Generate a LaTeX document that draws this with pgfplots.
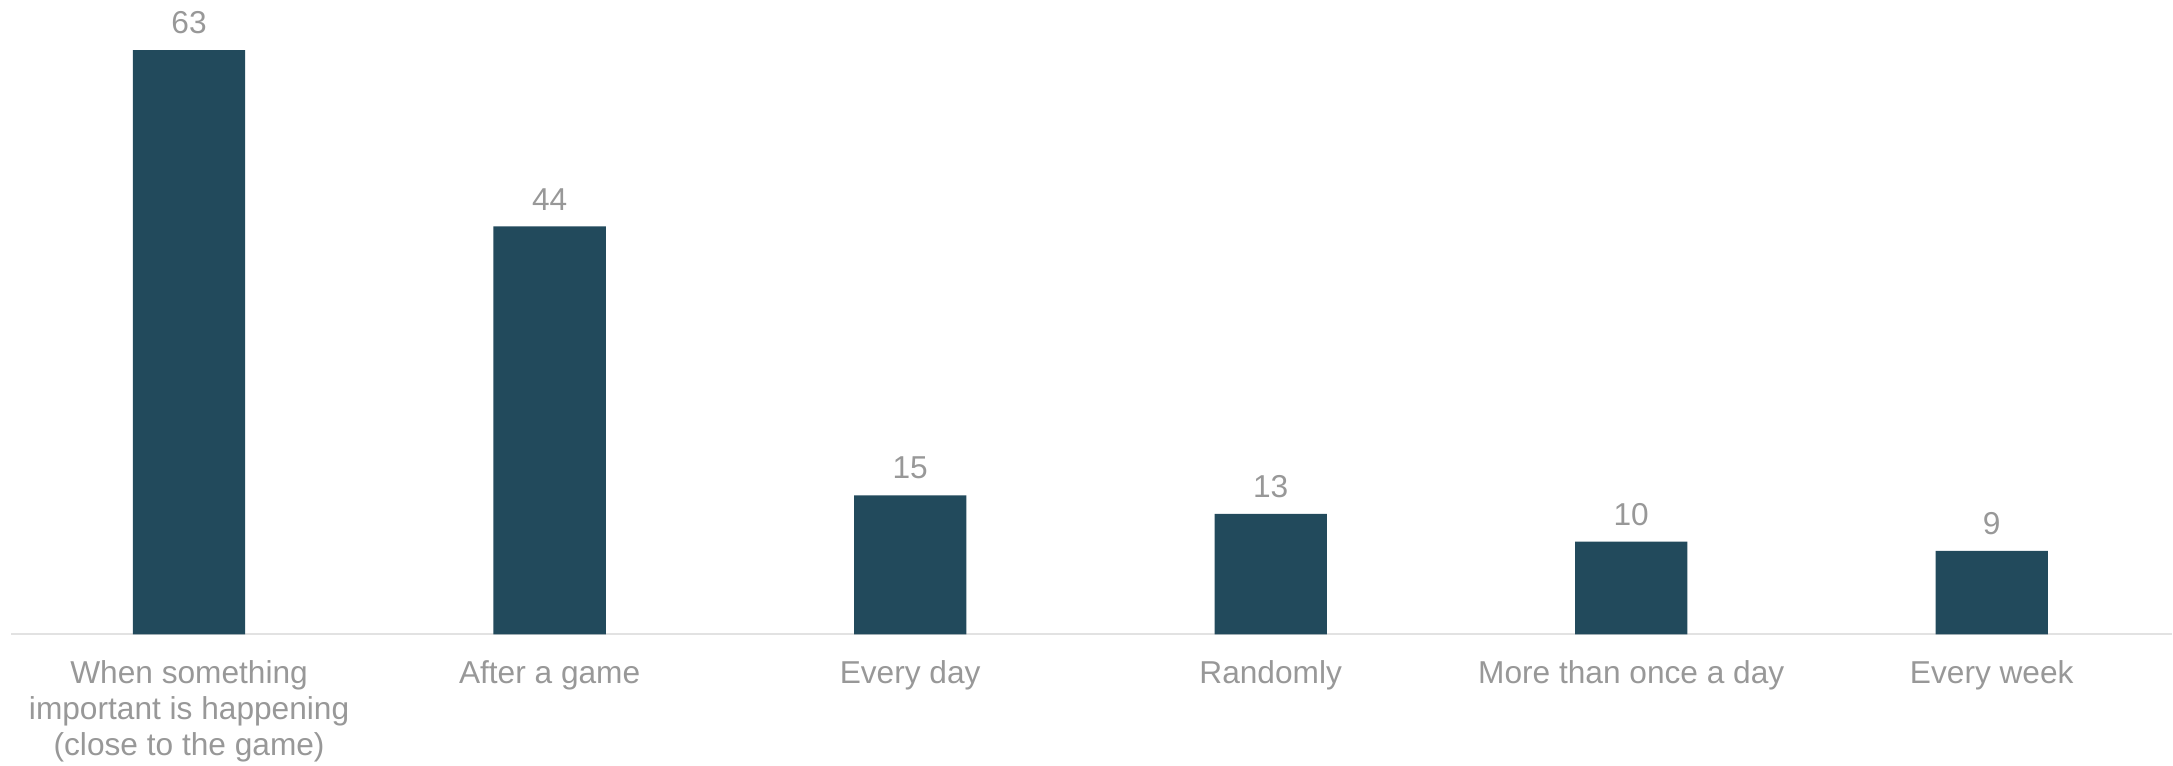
\documentclass[border=0pt]{standalone}
\usepackage{fontspec}
\setmainfont{Liberation Sans}
\usepackage{pgfplots}
\pgfplotsset{compat=1.18}
\definecolor{barcol}{HTML}{224A5C}
\definecolor{txtgray}{HTML}{989898}
\definecolor{axgray}{HTML}{E2E2E2}
\newcommand{\lblfont}{\fontsize{9.5}{10.8}\selectfont}
\begin{document}
\begin{tikzpicture}
\begin{axis}[
  name=ax,
  width=648.6pt, height=190.4pt, scale only axis,
  xmin=-0.494, xmax=5.5, ymin=0, ymax=68.4,
  axis x line*=bottom, axis y line=none,
  x axis line style={draw=axgray, line width=0.6pt, -},
  xtick=data,
  xticklabels={{When something\\important is happening\\(close to the game)},{After a game},{Every day},{Randomly},{More than once a day},{Every week}},
  major tick length=0pt,
  ytick=\empty,
  /pgf/number format/assume math mode=true,
  xticklabel style={font=\lblfont, text=txtgray, align=center, anchor=north, inner sep=0pt, yshift=-7.8pt},
  ybar, bar width=33.7pt,
  nodes near coords,
  nodes near coords style={font=\lblfont, text=txtgray, anchor=south, inner sep=0pt, yshift=4.6pt},
  clip=false,
]
\addplot[fill=barcol, draw=none] coordinates {(0,63) (1,44) (2,15) (3,13) (4,10) (5,9)};
\end{axis}
\path ([xshift=-3.3pt, yshift=-39.4pt]ax.south west) (ax.north east);
\end{tikzpicture}
\end{document}
